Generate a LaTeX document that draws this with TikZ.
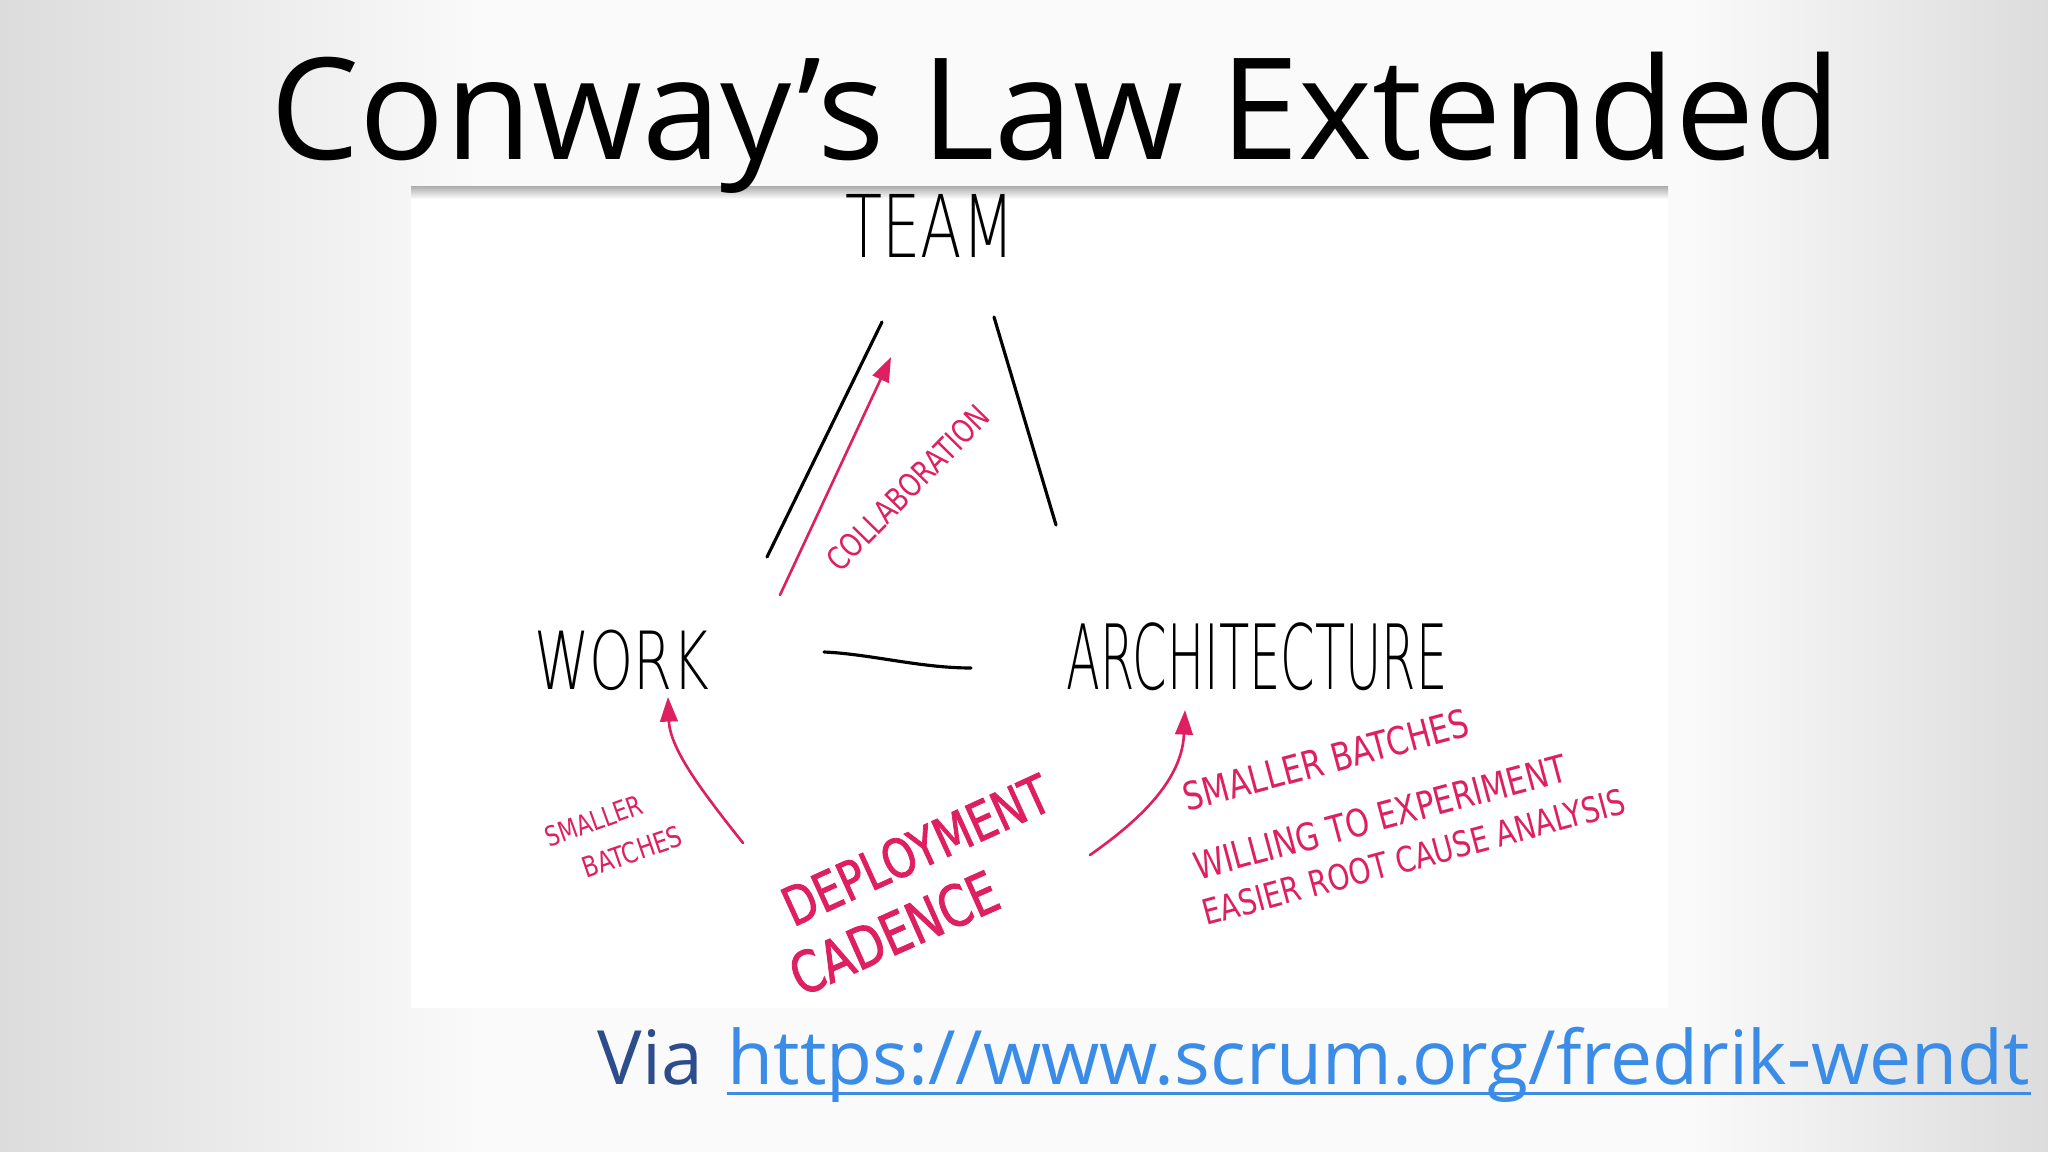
\documentclass[tikz,border=0pt]{standalone}
\usepackage{fontspec}
\setmainfont{Open Sans}
\newfontfamily\handK{DejaVu Sans ExtraLight}[FakeStretch=0.7]
\newfontfamily\handA{DejaVu Sans ExtraLight}[FakeStretch=0.55]
\newfontfamily\handR{DejaVu Sans}[FakeStretch=0.8]
\newfontfamily\handD{DejaVu Sans}[FakeStretch=0.8, FakeBold=1.5]
\usetikzlibrary{arrows.meta}
\definecolor{pen}{RGB}{222,32,96}
\definecolor{bgc}{RGB}{220,220,220}
\definecolor{bgl}{RGB}{250,250,250}
\definecolor{viablue}{RGB}{44,76,140}
\definecolor{linkblue}{RGB}{58,140,230}
\begin{document}
\begin{tikzpicture}[x=0.01cm,y=-0.01cm,
  hwk/.style={inner sep=0, text=black, font=\handK\fontsize{#1}{#1}\selectfont},
  hwa/.style={inner sep=0, text=black, font=\handA\fontsize{#1}{#1}\selectfont},
  rd/.style={inner sep=0, text=pen, font=\handR\fontsize{#1}{#1}\selectfont},
  rdb/.style={inner sep=0, text=pen, font=\handD\fontsize{#1}{#1}\selectfont},
  blk/.style={draw=black, line width=0.9pt, line cap=round},
  rarr/.style={draw=pen, line width=0.75pt, line cap=round, -{Triangle[length=7pt,width=5pt]}}]
\useasboundingbox (0,0) rectangle (2048,1152);
% slide background
\fill[bgl] (0,0) rectangle (2048,1152);
\shade[left color=bgc, right color=bgl] (0,0) rectangle (480,1152);
\shade[left color=bgl, right color=bgc] (1690,0) rectangle (2048,1152);
% whiteboard photo
\fill[white] (411,187) rectangle (1668,1008);
\shade[top color=black!30, bottom color=white] (411,187) rectangle (1668,199);
% title
\node[anchor=base west, inner sep=0, font=\fontsize{40.2pt}{44pt}\selectfont] (title) at (270,160) {Conway’s Law Extended};
% handwritten words
\node[hwk=24.6pt] (team) at (930,226) {TEAM};
\node[hwk=22.8pt] (work) at (622,660) {WORK};
\node[hwa=25.6pt] (arch) at (1257,657) {ARCHITECTURE};
% black strokes
\coordinate (l1a) at (767,557); \coordinate (l1b) at (882,322);
\coordinate (l2a) at (994,317); \coordinate (l2b) at (1056,525);
\coordinate (h0) at (824,652);  \coordinate (h1) at (971,668);
\draw[blk] (l1a) -- (l1b);
\draw[blk] (l2a) -- (l2b);
\draw[blk] (h0) .. controls (870,654) and (920,668) .. (h1);
% red annotations
\node[rd=9.1pt, rotate=45.5] (collab) at (908,488) {COLLABORATION};
\node[rd=7.8pt, rotate=20] (sbl1) at (594,821) {SMALLER};
\node[rd=8.1pt, rotate=19] (sbl2) at (632,852) {BATCHES};
\node[rdb=15.2pt, rotate=24.5] (deploy) at (916,850) {DEPLOYMENT};
\node[rdb=16.2pt, rotate=24] (cadence) at (894,933) {CADENCE};
\node[rd=11pt, rotate=15] (sbr) at (1326,760) {SMALLER BATCHES};
\node[rd=10.8pt, rotate=15] (will) at (1380,817) {WILLING TO EXPERIMENT};
\node[rd=10pt, rotate=15] (easier) at (1414,857) {EASIER ROOT CAUSE ANALYSIS};
% red arrows
\coordinate (ca0) at (780,595); \coordinate (ca1) at (891,357);
\coordinate (wa0) at (743,843); \coordinate (wa1) at (668,697);
\coordinate (aa0) at (1090,855); \coordinate (aa1) at (1185,710);
\draw[rarr] (ca0) -- (ca1);
\draw[rarr] (wa0) .. controls (705,795) and (670,750) .. (wa1);
\draw[rarr] (aa0) .. controls (1140,820) and (1182,780) .. (aa1);
% source line
\node[anchor=base west, inner sep=0, text=viablue, font=\fontsize{21.3pt}{26pt}\selectfont] (via) at (597,1084) {Via};
\node[anchor=base west, inner sep=0, text=linkblue, font=\fontsize{21.3pt}{26pt}\selectfont] (url) at (727,1084) {https://www.scrum.org/fredrik-wendt};
\draw[linkblue, line width=0.85pt] ([yshift=-2.8pt]url.base west) -- ([yshift=-2.8pt]url.base east);
\end{tikzpicture}
\end{document}
